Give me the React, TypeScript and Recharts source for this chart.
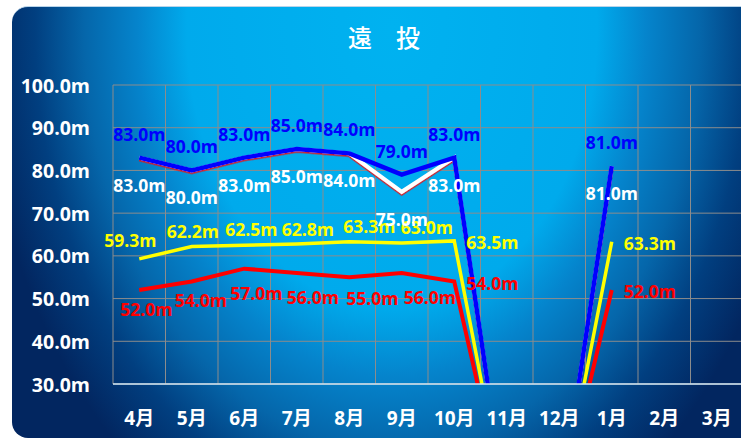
import React from 'react';
import { LineChart, Line, XAxis, YAxis, CartesianGrid } from 'recharts';

const months = ['4月', '5月', '6月', '7月', '8月', '9月', '10月', '11月', '12月', '1月', '2月', '3月'];
const bestValues = [83.0, 80.0, 83.0, 85.0, 84.0, 79.0, 83.0, 0, 0, 81.0, null, null];
const secondValues = [83.0, 80.0, 83.0, 85.0, 84.0, 75.0, 83.0, 0, 0, 81.0, null, null];
const avgValues = [59.3, 62.2, 62.5, 62.8, 63.3, 63.0, 63.5, 0, 0, 63.3, null, null];
const minValues = [52.0, 54.0, 57.0, 56.0, 55.0, 56.0, 54.0, 0, 0, 52.0, null, null];
const yTicks = [30, 40, 50, 60, 70, 80, 90, 100];

const data = months.map((m, i) => ({
  month: m,
  best: bestValues[i],
  second: secondValues[i],
  avg: avgValues[i],
  min: minValues[i],
}));

// label offsets (layout only)
const bestOffsets = months.map(() => [0, -24]);
const secondOffsets = months.map(() => [0, 27]);
const avgOffsets = [[-9, -19], [1, -15], [7, -16], [11, -15], [20, -16], [25, -16], [38, 1], [0, 0], [0, 0], [38, 1], [0, 0], [0, 0]];
const minOffsets = [[7, 19], [9, 18.5], [12, 24], [16, 24], [23, 21], [28, 24], [38, 1.5], [0, 0], [0, 0], [38, 1], [0, 0], [0, 0]];

const FONT = "'Open Sans', 'Noto Sans CJK JP', sans-serif";

const makeLabel = (color: string, offsets: number[][]) => (props: any) => {
  const { x, y, value, index } = props;
  if (value == null || value === 0) return null;
  const off = offsets[index] || [0, 0];
  return (
    <text
      key={`l-${color}-${index}`}
      x={x + off[0]}
      y={y + off[1]}
      fill={color}
      textAnchor="middle"
      dominantBaseline="central"
      fontSize={17.5}
      fontWeight={700}
      fontFamily={FONT}
    >
      {Number(value).toFixed(1)}m
    </text>
  );
};

const XTick = (props: any) => {
  const { x, y, payload } = props;
  return (
    <text x={x} y={y + 34} fill="#ffffff" textAnchor="middle" dominantBaseline="central" fontSize={19} fontWeight={700} fontFamily={FONT}>
      {payload.value}
    </text>
  );
};

const YTick = (props: any) => {
  const { x, y, payload } = props;
  return (
    <text x={x - 23} y={y} fill="#ffffff" textAnchor="end" dominantBaseline="central" fontSize={19.5} fontWeight={700} fontFamily={FONT}>
      {Number(payload.value).toFixed(1)}m
    </text>
  );
};

export default function App() {
  const W = 760;
  const H = 438;
  return (
    <div style={{ position: 'absolute', left: 0, top: 0, width: 741, height: 438, overflow: 'hidden', background: '#ffffff' }}>
      <div
        style={{
          position: 'absolute',
          left: 12,
          top: 6,
          width: 760,
          height: 431,
          borderRadius: 16,
          borderTop: '1px solid #b8d4ea',
          background:
            'radial-gradient(ellipse 54% 130% at 50% 5%, #00b2f0 0%, #00aaec 50%, #0584cc 62%, #0566aa 75%, #013f80 87%, #022660 100%)',
        }}
      />
      <div
        style={{
          position: 'absolute',
          left: 284,
          width: 200,
          top: 22,
          textAlign: 'center',
          color: '#ffffff',
          fontFamily: "'Noto Sans CJK JP', sans-serif",
          fontSize: 24,
          fontWeight: 500,
          lineHeight: '30px',
          whiteSpace: 'pre',
        }}
      >
        遠　投
      </div>
      <div style={{ position: 'absolute', left: 0, top: 0 }}>
        <LineChart width={W} height={H} data={data} margin={{ top: 85, right: W - 743, bottom: 24, left: 0 }}>
          <defs>
            <filter id="redEdge" filterUnits="userSpaceOnUse" x="0" y="0" width="800" height="500">
              <feDropShadow dx="0" dy="1.6" stdDeviation="0.3" floodColor="#e3141e" floodOpacity="1" />
            </filter>
          </defs>
          <CartesianGrid
            stroke="#8c8c8c"
            strokeWidth={1}
            verticalCoordinatesGenerator={({ offset }: any) =>
              months.map((_, i) => offset.left + (i * offset.width) / months.length).concat([offset.left + offset.width])
            }
          />
          <XAxis
            dataKey="month"
            scale="band"
            height={30}
            tickLine={false}
            tickSize={0}
            tickMargin={0}
            axisLine={{ stroke: '#cfe6f4', strokeWidth: 1.5 }}
            tick={<XTick />}
            interval={0}
          />
          <YAxis
            width={113}
            domain={[30, 100]}
            ticks={yTicks}
            allowDataOverflow
            axisLine={false}
            tickLine={false}
            tickSize={0}
            tickMargin={0}
            tick={<YTick />}
          />
          <Line dataKey="min" stroke="#ff0000" strokeWidth={4} dot={false} activeDot={false} isAnimationActive={false} label={makeLabel('#ff0000', minOffsets)} />
          <Line dataKey="avg" stroke="#ffff00" strokeWidth={3.5} dot={false} activeDot={false} isAnimationActive={false} label={makeLabel('#ffff00', avgOffsets)} />
          <Line dataKey="second" stroke="#ffffff" strokeWidth={4} dot={false} activeDot={false} isAnimationActive={false} filter="url(#redEdge)" label={makeLabel('#ffffff', secondOffsets)} />
          <Line dataKey="best" stroke="#0000ff" strokeWidth={4.5} dot={false} activeDot={false} isAnimationActive={false} label={makeLabel('#0000ff', bestOffsets)} />
        </LineChart>
      </div>
    </div>
  );
}
